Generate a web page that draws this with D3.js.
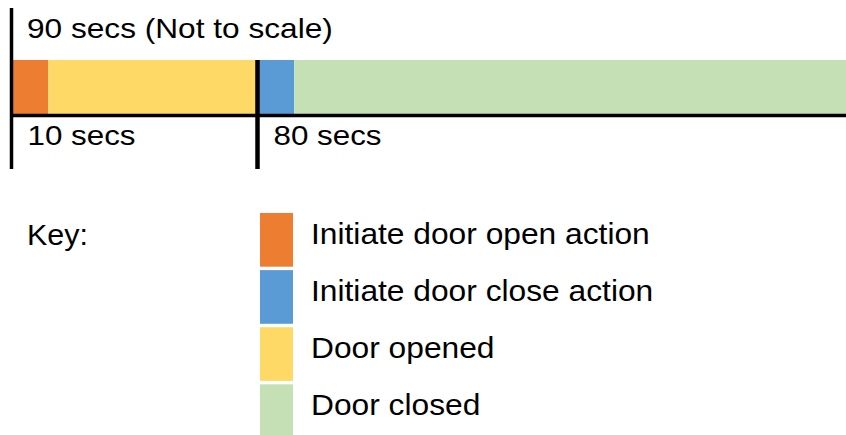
<!DOCTYPE html>
<html>
<head>
<meta charset="utf-8">
<script src="https://cdn.jsdelivr.net/npm/d3@7"></script>
<style>
  body { margin: 0; background: #ffffff; }
  svg { display: block; }
</style>
</head>
<body>
<div id="chart"></div>
<script>
// phases along the (not to scale) timeline, in seconds
var phaseNames = ["Initiate door open action", "Door opened", "Initiate door close action", "Door closed"];
var phaseStart = [0, 1.5, 10, 15];
var phaseEnd   = [1.5, 10, 15, 90];
var phaseColors = ["#ED7D31", "#FFD966", "#5B9BD5", "#C5E0B4"];

// section markers and their labels
var sectionBreaks = [0, 10, 90];
var sectionLabels = ["10 secs", "80 secs"];
var titleText = "90 secs (Not to scale)";

// key order
var keyNames = ["Initiate door open action", "Initiate door close action", "Door opened", "Door closed"];
var keyColors = ["#ED7D31", "#5B9BD5", "#FFD966", "#C5E0B4"];

var width = 846, height = 435;
var fontFam = "Liberation Sans, Arial, sans-serif";

var svg = d3.select("#chart").append("svg")
    .attr("width", width)
    .attr("height", height);

// piecewise scale, since the picture is not to scale
var x = d3.scaleLinear()
    .domain(sectionBreaks)
    .range([11.5, 257.5, 846]);

var barTop = 60, barBottom = 114;

svg.selectAll(".phase")
    .data(phaseNames)
    .enter()
    .append("rect")
    .attr("class", "phase")
    .attr("x", function(d, i){ return x(phaseStart[i]); })
    .attr("y", barTop)
    .attr("width", function(d, i){ return x(phaseEnd[i]) - x(phaseStart[i]); })
    .attr("height", barBottom - barTop)
    .attr("fill", function(d, i){ return phaseColors[i]; });

// baseline under the bar
svg.append("line")
    .attr("x1", x(0))
    .attr("x2", x(90))
    .attr("y1", 115.5)
    .attr("y2", 115.5)
    .attr("stroke", "#000")
    .attr("stroke-width", 3.5);

// start marker
svg.append("line")
    .attr("x1", x(0)).attr("x2", x(0))
    .attr("y1", 8).attr("y2", 169)
    .attr("stroke", "#000")
    .attr("stroke-width", 3.5);

// 10 sec marker
svg.append("line")
    .attr("x1", x(10)).attr("x2", x(10))
    .attr("y1", 60).attr("y2", 169)
    .attr("stroke", "#000")
    .attr("stroke-width", 4.5);

function stretchedText(txt, tx, ty, size, sx){
    svg.append("text")
        .attr("transform", "translate(" + tx + "," + ty + ") scale(" + sx + ",1)")
        .style("font-family", fontFam)
        .style("font-size", size + "px")
        .style("fill", "#000")
        .text(txt);
}

stretchedText(titleText, 27, 38, 28.5, 1.11);

sectionLabels.forEach(function(lbl, i){
    stretchedText(lbl, x(sectionBreaks[i]) + 16, 145, 28.5, 1.1);
});

// key
stretchedText("Key:", 27, 245, 29, 1.05);

var keyY = d3.scaleBand()
    .domain(keyNames)
    .range([213, 438])
    .paddingInner(0.06)
    .paddingOuter(0);

svg.selectAll(".keySwatch")
    .data(keyNames)
    .enter()
    .append("rect")
    .attr("class", "keySwatch")
    .attr("x", 260)
    .attr("y", function(d){ return keyY(d); })
    .attr("width", 33)
    .attr("height", keyY.bandwidth())
    .attr("fill", function(d, i){ return keyColors[i]; });

keyNames.forEach(function(d){
    stretchedText(d, 311, keyY(d) + 31, 29, 1.095);
});
</script>
</body>
</html>
